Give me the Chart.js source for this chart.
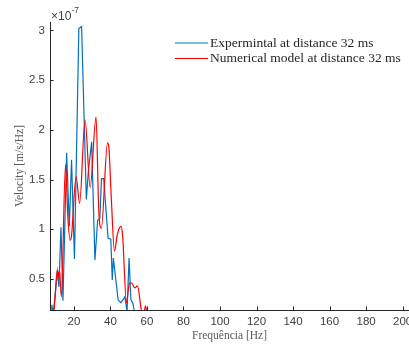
<!DOCTYPE html>
<html>
<head>
<meta charset="utf-8">
<script src="https://cdn.jsdelivr.net/npm/chart.js@4/dist/chart.umd.min.js"></script>
<style>
  html, body { margin: 0; padding: 0; background: #fff; }
  #wrap { width: 409px; height: 345px; }
</style>
</head>
<body>
<div id="wrap"><canvas id="spectrumChart"></canvas></div>
<script>
// values are in units of 1e-7 m/s/Hz
const expFreq = [7.6, 7.9, 8.7, 9.8, 10.9, 11.8, 12.9, 14.0, 16.0, 17.5, 18.7, 20.3, 22.7, 24.2, 26.8, 27.9, 29.7, 31.5, 33.0, 34.2, 35.1, 36.3, 38.7, 40.2, 41.0, 41.6, 42.6, 44.2, 45.7, 47.9, 49.1, 50.2, 51.2, 52.2, 53.4, 55.0, 57.0, 60.0];
const expVel = [0.19, 0.24, 0.15, 0.35, 0.57, 0.42, 1.02, 0.28, 1.77, 1.03, 1.70, 0.70, 3.02, 3.04, 1.30, 1.58, 1.88, 0.69, 1.09, 1.11, 1.51, 1.51, 0.91, 0.90, 0.49, 0.71, 0.55, 0.29, 0.26, 0.32, 0.17, 0.71, 0.29, 0.26, 0.15, 0.12, 0.10, 0.08];

const numFreq = [8.8, 9.6, 10.9, 11.6, 12.1, 13.1, 15.4, 16.6, 17.9, 18.6, 21.2, 23.1, 26.1, 28.9, 32.1, 33.6, 35.0, 38.4, 39.1, 40.5, 42.2, 43.8, 45.7, 46.6, 48.8, 50.3, 51.5, 53.4, 54.8, 57.0, 58.3, 59.2, 60.2, 62.0];
const numVel = [0.12, 0.30, 0.59, 0.52, 0.59, 0.32, 1.65, 1.15, 0.89, 0.92, 1.53, 1.26, 2.10, 1.42, 2.13, 1.19, 1.01, 1.87, 1.83, 1.30, 0.78, 0.95, 1.03, 0.95, 0.26, 0.45, 0.46, 0.41, 0.43, 0.18, 0.15, 0.23, 0.12, 0.05];

const xTicks = [20, 40, 60, 80, 100, 120, 140, 160, 180, 200];
const yTicks = [0.5, 1, 1.5, 2, 2.5, 3];
const seriesLabels = ["Expermintal at distance 32 ms", "Numerical model at distance 32 ms"];

const colors = {
  exp: "#0072BD",
  num: "#FF0000",
  axis: "#262626",
  tick: "#404040",
  title: "#595959",
};

const toPoints = (xs, ys) => xs.map((x, i) => ({ x, y: ys[i] }));

// MATLAB style: inward ticks, legend in the corner and the x10^-7 multiplier
const decorPlugin = {
  id: "decor",
  afterDraw(chart) {
    const { ctx, chartArea, scales } = chart;
    ctx.save();
    ctx.strokeStyle = colors.axis;
    ctx.lineWidth = 1;
    ctx.beginPath();
    xTicks.forEach((v) => {
      const px = Math.round(scales.x.getPixelForValue(v)) + 0.5;
      ctx.moveTo(px, chartArea.bottom);
      ctx.lineTo(px, chartArea.bottom - 3.5);
    });
    yTicks.forEach((v) => {
      const py = Math.round(scales.y.getPixelForValue(v)) + 0.5;
      ctx.moveTo(chartArea.left, py);
      ctx.lineTo(chartArea.left + 3.5, py);
    });
    ctx.stroke();

    // legend
    const rows = [
      { label: seriesLabels[0], color: colors.exp, y: 43 },
      { label: seriesLabels[1], color: colors.num, y: 58.5 },
    ];
    ctx.font = '13.5px "Liberation Serif"';
    ctx.textBaseline = "middle";
    ctx.textAlign = "left";
    rows.forEach((r) => {
      ctx.strokeStyle = r.color;
      ctx.lineWidth = 1.2;
      ctx.beginPath();
      ctx.moveTo(175, r.y);
      ctx.lineTo(208, r.y);
      ctx.stroke();
      ctx.fillStyle = colors.axis;
      ctx.fillText(r.label, 210, r.y);
    });

    // exponent
    ctx.fillStyle = colors.tick;
    ctx.font = '12px "Liberation Sans"';
    ctx.fillText("\u00d710", 51, 16.5);
    ctx.font = '8.5px "Liberation Sans"';
    ctx.fillText("-7", 71.5, 10.5);
    ctx.restore();
  },
};

new Chart(document.getElementById("spectrumChart"), {
  type: "line",
  data: {
    datasets: [
      {
        label: seriesLabels[0],
        data: toPoints(expFreq, expVel),
        borderColor: colors.exp,
        borderWidth: 1.2,
        pointRadius: 0,
        tension: 0,
        order: 1,
      },
      {
        label: seriesLabels[1],
        data: toPoints(numFreq, numVel),
        borderColor: colors.num,
        borderWidth: 1.2,
        pointRadius: 0,
        cubicInterpolationMode: "monotone",
        order: 0,
      },
    ],
  },
  options: {
    responsive: true,
    maintainAspectRatio: false,
    animation: false,
    layout: { padding: { top: 22, left: 0, right: 0, bottom: 0 } },
    plugins: {
      legend: { display: false },
      tooltip: { enabled: false },
    },
    scales: {
      x: {
        type: "linear",
        min: 6.9,
        max: 203.5,
        grid: { display: false, drawTicks: false },
        border: { display: true, color: colors.axis, width: 1 },
        afterBuildTicks: (s) => { s.ticks = xTicks.map((v) => ({ value: v })); },
        afterFit: (s) => { s.height = 35; s.paddingLeft = 0; s.paddingRight = 0; },
        ticks: {
          autoSkip: false,
          maxRotation: 0,
          padding: 5,
          color: colors.tick,
          font: { family: "Liberation Sans", size: 11.5 },
        },
        title: {
          display: true,
          text: "Frequência [Hz]",
          color: colors.title,
          font: { family: "Liberation Serif", size: 11.5 },
          padding: { top: 0, bottom: 2 },
        },
      },
      y: {
        type: "linear",
        min: 0.188,
        max: 3.085,
        grid: { display: false, drawTicks: false },
        border: { display: true, color: colors.axis, width: 1 },
        afterBuildTicks: (s) => { s.ticks = yTicks.map((v) => ({ value: v })); },
        afterFit: (s) => { s.width = 50; s.paddingTop = 0; s.paddingBottom = 0; },
        ticks: {
          padding: 5,
          color: colors.tick,
          font: { family: "Liberation Sans", size: 11.5 },
          callback: (v) => String(v),
        },
        title: {
          display: true,
          text: "Velocity [m/s/Hz]",
          color: colors.title,
          font: { family: "Liberation Serif", size: 11.5 },
          padding: { top: 13, bottom: 0 },
        },
      },
    },
  },
  plugins: [decorPlugin],
});
</script>
</body>
</html>
